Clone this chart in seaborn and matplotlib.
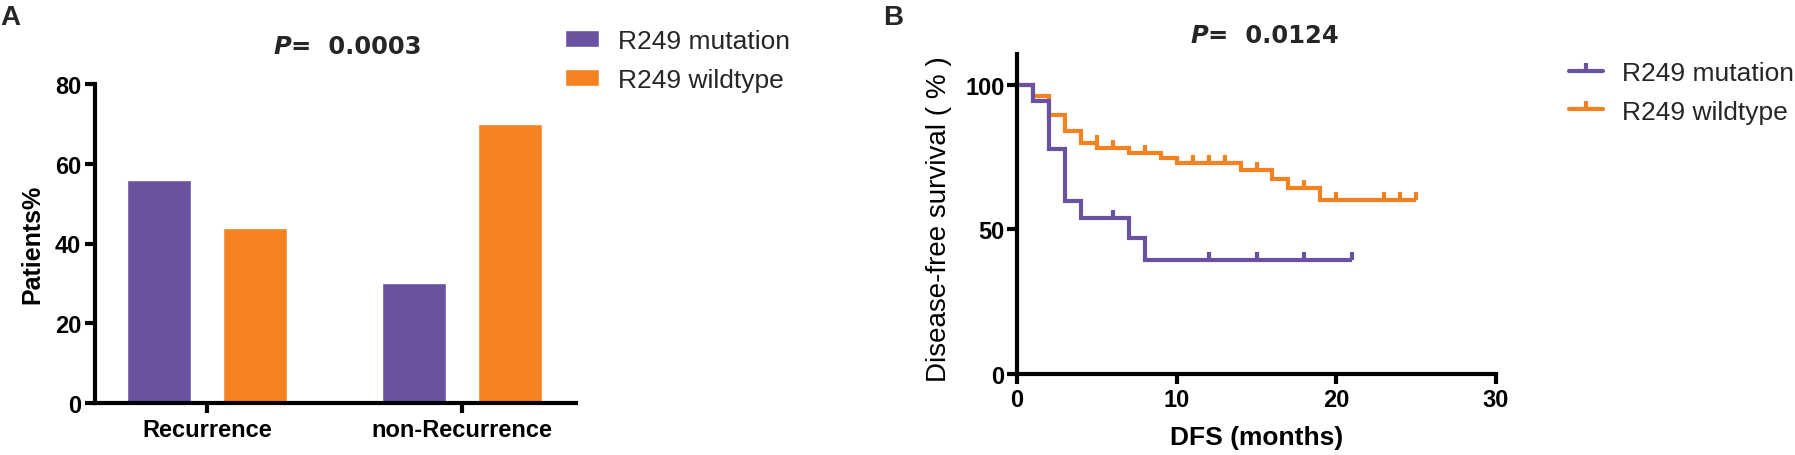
import numpy as np
import pandas as pd
import matplotlib
matplotlib.use("Agg")
import matplotlib.pyplot as plt
from matplotlib.lines import Line2D
import seaborn as sns

# panel A: share of patients (%)
groups = ["Recurrence", "non-Recurrence"]
mutation_pct = [56, 30]
wildtype_pct = [44, 70]

# panel B: disease-free survival step curves (months, %)
mut_times = [0, 1, 2, 3, 4, 7, 8, 21]
mut_surv = [100, 94.4, 77.8, 60.0, 53.9, 47.1, 39.3, 39.3]
mut_censor = [6, 12, 15, 18, 21]

wt_times = [0, 1, 2, 3, 4, 5, 7, 9, 10, 14, 16, 17, 19, 25]
wt_surv = [100, 96.3, 89.7, 84.1, 79.9, 78.2, 76.5, 74.7, 73.1, 70.5, 67.6, 64.3, 60.1, 60.1]
wt_censor = [5, 6, 8, 11, 12, 13, 15, 18, 20, 23, 24, 25]

labels = ["R249 mutation", "R249 wildtype"]
purple = "#6b52a1"
orange = "#f58220"

sns.set_theme(style="white")
plt.rcParams["font.family"] = ["Liberation Sans", "DejaVu Sans"]
plt.rcParams["axes.linewidth"] = 3

W, H = 1795, 456
fig = plt.figure(figsize=(W / 100, H / 100), dpi=100)


def box(left, top, right, bottom):
    return [left / W, 1 - bottom / H, (right - left) / W, (bottom - top) / H]


def style_axes(ax):
    sns.despine(ax=ax)
    for s in ["left", "bottom"]:
        ax.spines[s].set_color("black")
        ax.spines[s].set_linewidth(3)
    ax.tick_params(axis="both", direction="out", length=7, width=3,
                   color="black", labelsize=17, labelcolor="black", left=True, bottom=True)


# ---------- panel A ----------
axA = fig.add_axes(box(95, 85, 576, 404))
dfA = pd.DataFrame({
    "group": groups * 2,
    "status": [labels[0]] * 2 + [labels[1]] * 2,
    "pct": mutation_pct + wildtype_pct,
})
sns.barplot(data=dfA, x="group", y="pct", hue="status", palette=[purple, orange],
            width=0.75, gap=0.33, errorbar=None, saturation=1, ax=axA)
axA.set_xlim(-0.439, 1.447)
axA.set_ylim(0, 80)
axA.set_yticks([0, 20, 40, 60, 80])
axA.set_xlabel("")
axA.set_ylabel("Patients%", fontsize=18, fontweight="bold", color="black")
axA.yaxis.set_label_coords(-0.105, 0.5)
style_axes(axA)
axA.tick_params(axis="y", pad=3)
axA.tick_params(axis="x", pad=4)
plt.setp(axA.get_xticklabels() + axA.get_yticklabels(), fontweight="bold")

handles, labs = axA.get_legend_handles_labels()
axA.legend(handles, labs, loc="upper left", bbox_to_anchor=(565 / W, 1 - 30 / H),
           bbox_transform=fig.transFigure, frameon=False, fontsize=19,
           handlelength=1.29, handleheight=0.64, handletextpad=0.72,
           labelspacing=0.55, borderpad=0, borderaxespad=0)

# ---------- panel B ----------
axB = fig.add_axes(box(1017, 55, 1496, 375))


def censor_levels(times, surv, cens):
    idx = np.searchsorted(times, cens, side="left") - 1
    return np.asarray(surv)[np.clip(idx, 0, len(surv) - 1)]


for t, s, c, col in [(wt_times, wt_surv, wt_censor, orange),
                     (mut_times, mut_surv, mut_censor, purple)]:
    sns.lineplot(x=t, y=s, drawstyle="steps-post", color=col, linewidth=3,
                 solid_joinstyle="miter", solid_capstyle="butt", ax=axB,
                 estimator=None, sort=False)
    axB.plot(c, censor_levels(t, s, c), linestyle="none", marker=2,
             markersize=6, markeredgewidth=3, color=col)

axB.set_xlim(0, 30)
axB.set_ylim(0, 110.7)
axB.set_xticks([0, 10, 20, 30])
axB.set_yticks([0, 50, 100])
axB.set_xlabel("DFS (months)", fontsize=19, fontweight="bold", color="black")
axB.set_ylabel("Disease-free survival ( % )", fontsize=20, fontweight="normal", color="black")
axB.xaxis.set_label_coords(0.5, -0.16)
axB.yaxis.set_label_coords(-0.136, 0.486)
style_axes(axB)
axB.tick_params(axis="y", pad=2)
axB.tick_params(axis="x", pad=3)
plt.setp(axB.get_xticklabels() + axB.get_yticklabels(), fontweight="bold")

legB = [Line2D([], [], color=purple, lw=3, marker=2, ms=6, mew=3),
        Line2D([], [], color=orange, lw=3, marker=2, ms=6, mew=3)]
axB.legend(legB, labels, loc="upper left", bbox_to_anchor=(1569 / W, 1 - 62 / H),
           bbox_transform=fig.transFigure, frameon=False, fontsize=19,
           handlelength=1.29, handletextpad=0.72, labelspacing=0.55,
           borderpad=0, borderaxespad=0, numpoints=1)

# ---------- titles and panel letters ----------
for px, py, value in [(273, 54, "0.0003"), (1190, 43, "0.0124")]:
    ptxt = fig.text(px / W, 1 - py / H, "P", fontsize=17.5, fontweight="bold",
                    style="italic", family="DejaVu Sans", va="baseline")
    axA.annotate("=  " + value, xy=(1, 0), xycoords=ptxt, va="bottom",
                 fontsize=17.5, fontweight="bold", family="DejaVu Sans",
                 annotation_clip=False)

fig.text(0 / W, 1 - 25 / H, "A", fontsize=20, fontweight="bold", va="baseline")
fig.text(883 / W, 1 - 25 / H, "B", fontsize=20, fontweight="bold", va="baseline")

fig.savefig("out.png", dpi=100)
